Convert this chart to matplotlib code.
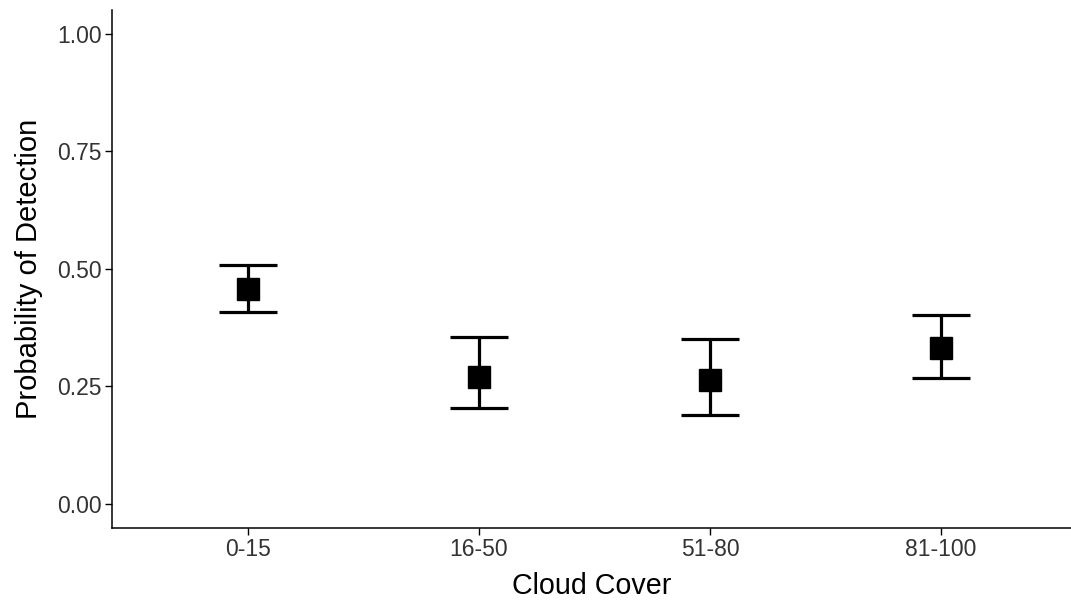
import matplotlib
matplotlib.use("Agg")
import matplotlib.pyplot as plt
import numpy as np

plt.rcParams['font.family'] = ['Liberation Sans', 'DejaVu Sans']

# cloud cover classes and estimated detection probability
categories = ['0-15', '16-50', '51-80', '81-100']
estimate = [0.458, 0.271, 0.263, 0.331]
lower = [0.409, 0.203, 0.190, 0.268]
upper = [0.507, 0.355, 0.350, 0.401]

x = np.arange(1, len(categories) + 1)
est = np.array(estimate)
yerr = np.array([est - np.array(lower), np.array(upper) - est])

fig = plt.figure(figsize=(10.71, 6.01), dpi=100)
ax = fig.add_axes([112/1071, 73/601, 1 - 112/1071, 518/601])

ax.errorbar(x, est, yerr=yerr, fmt='s', color='black', ms=16.5,
            ecolor='black', elinewidth=2.3, capsize=21, capthick=2.3)

ax.set_xlim(0.411, 4.563)
ax.set_ylim(-0.051, 1.05)
ax.set_xticks(x)
ax.set_xticklabels(categories)
ax.set_yticks([0, 0.25, 0.5, 0.75, 1.0])
ax.set_yticklabels(['0.00', '0.25', '0.50', '0.75', '1.00'])

for s in ['top', 'right']:
    ax.spines[s].set_visible(False)
for s in ['left', 'bottom']:
    ax.spines[s].set_linewidth(1.1)
ax.tick_params(labelsize=16.5, colors='black', labelcolor='#333333',
               length=5, width=1.0, pad=2.5)

ax.set_xlabel('Cloud Cover', fontsize=20.6, labelpad=7.5)
ax.set_ylabel('Probability of Detection', fontsize=21, labelpad=10)

fig.savefig('out.png', dpi=100)
